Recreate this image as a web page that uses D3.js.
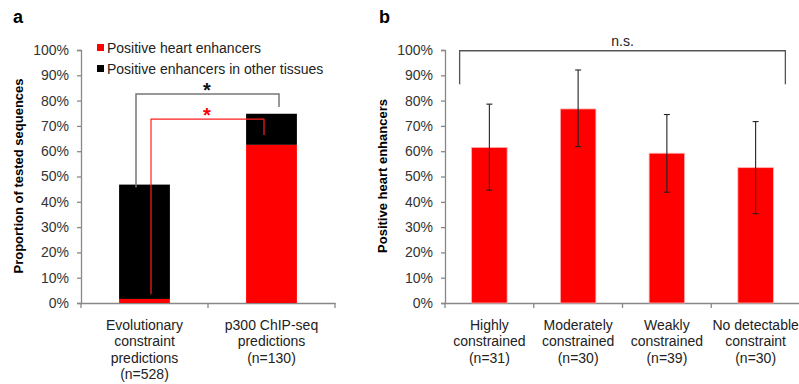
<!DOCTYPE html>
<html>
<head>
<meta charset="utf-8">
<script src="https://cdn.jsdelivr.net/npm/d3@7"></script>
<style>
  body { margin: 0; background: #fff; }
  svg text { font-family: "Liberation Sans", Arial, sans-serif; }
</style>
</head>
<body>
<svg id="chart" width="799" height="384"></svg>
<script>
// panel a
var aCategories = [["Evolutionary", "constraint", "predictions", "(n=528)"], ["p300 ChIP-seq", "predictions", "(n=130)"]];
var aHeart = [0.016, 0.625];
var aOther = [0.452, 0.123];
// panel b
var bCategories = [["Highly", "constrained", "(n=31)"], ["Moderately", "constrained", "(n=30)"], ["Weakly", "constrained", "(n=39)"], ["No detectable", "constraint", "(n=30)"]];
var bValues = [0.615, 0.767, 0.592, 0.535];
var bLow = [0.446, 0.618, 0.438, 0.353];
var bHigh = [0.786, 0.921, 0.745, 0.717];
var yTicks = [0, 0.1, 0.2, 0.3, 0.4, 0.5, 0.6, 0.7, 0.8, 0.9, 1];

var svg = d3.select("#chart");
var fmt = d3.format(".0%");

function drawAxes(g, x, y) {
  var yAxis = g.append("g").attr("transform", "translate(" + x.range()[0] + ",0)")
    .call(d3.axisLeft(y).tickValues(yTicks).tickFormat(fmt).tickSize(4).tickPadding(8));
  var xAxis = g.append("g").attr("transform", "translate(0," + y(0) + ")")
    .call(d3.axisBottom(x).tickSize(0).tickFormat(""));
  [yAxis, xAxis].forEach(function (ax) {
    ax.select(".domain").attr("stroke", "#888").attr("stroke-width", 1.3);
    ax.selectAll(".tick line").attr("stroke", "#888").attr("stroke-width", 1.3);
    ax.selectAll("text").attr("fill", "#333").style("font-size", "14px");
  });
  // category separator ticks
  var edges = x.domain().map(function (d) { return x(d) - x.step() * x.paddingOuter(); });
  edges.push(x.range()[1]);
  xAxis.selectAll(".sep").data(edges).enter().append("line")
    .attr("x1", function (d) { return d; }).attr("x2", function (d) { return d; })
    .attr("y1", 0).attr("y2", 5).attr("stroke", "#888").attr("stroke-width", 1.3);
}

function drawLabels(g, x, y, cats) {
  cats.forEach(function (lines, i) {
    var t = g.append("text").attr("text-anchor", "middle").attr("fill", "#222")
      .style("font-size", "14px");
    lines.forEach(function (s, j) {
      t.append("tspan").attr("x", x(i) + x.bandwidth() / 2).attr("y", y(0) + 27 + j * 16.3).text(s);
    });
  });
}

// ---------- panel a ----------
var ya = d3.scaleLinear().domain([0, 1]).range([303, 50]);
var xa = d3.scaleBand().domain(d3.range(aCategories.length)).range([81, 335]).paddingInner(0.6).paddingOuter(0.3);
var ga = svg.append("g");
drawAxes(ga, xa, ya);

ga.selectAll(".other").data(aOther).enter().append("rect")
  .attr("x", function (d, i) { return xa(i); })
  .attr("width", xa.bandwidth())
  .attr("y", function (d, i) { return ya(aHeart[i] + d); })
  .attr("height", function (d) { return ya(0) - ya(d); })
  .attr("fill", "#000");
ga.selectAll(".heart").data(aHeart).enter().append("rect")
  .attr("x", function (d, i) { return xa(i); })
  .attr("width", xa.bandwidth())
  .attr("y", function (d) { return ya(d); })
  .attr("height", function (d) { return ya(0) - ya(d); })
  .attr("fill", "#ff0000");

// significance brackets
var c0 = xa(0) + xa.bandwidth() / 2, c1 = xa(1) + xa.bandwidth() / 2;
ga.append("path")
  .attr("d", d3.line()([[c0 - 8.5, ya(aHeart[0] + aOther[0]) + 3], [c0 - 8.5, ya(0.826)], [c1 + 7.5, ya(0.826)], [c1 + 7.5, ya(0.775)]]))
  .attr("fill", "none").attr("stroke", "#777").attr("stroke-width", 1.5);
ga.append("text").attr("x", (c0 + c1) / 2 - 1).attr("y", ya(0.826) + 3).attr("text-anchor", "middle")
  .style("font-size", "20px").style("font-weight", "bold").attr("fill", "#111").text("*");
ga.append("path")
  .attr("d", d3.line()([[c0 + 6.5, ya(0.035)], [c0 + 6.5, ya(0.727)], [c1 - 7.5, ya(0.727)], [c1 - 7.5, ya(0.664)]]))
  .attr("fill", "none").attr("stroke", "#ff2020").attr("stroke-width", 1.2);
ga.append("text").attr("x", (c0 + c1) / 2 - 1).attr("y", ya(0.727) + 3).attr("text-anchor", "middle")
  .style("font-size", "20px").style("font-weight", "bold").attr("fill", "#ff0000").text("*");

// legend
var legend = [["Positive heart enhancers", "#ff0000"], ["Positive enhancers in other tissues", "#000"]];
legend.forEach(function (l, i) {
  ga.append("rect").attr("x", 97).attr("y", 44 + i * 21).attr("width", 7).attr("height", 7).attr("fill", l[1]);
  ga.append("text").attr("x", 107).attr("y", 53 + i * 21).attr("fill", "#222")
    .style("font-size", "14px").text(l[0]);
});

drawLabels(ga, xa, ya, aCategories);
ga.append("text").attr("transform", "translate(23,176) rotate(-90)").attr("text-anchor", "middle")
  .style("font-size", "13px").style("font-weight", "bold").attr("fill", "#000").text("Proportion of tested sequences");
svg.append("text").attr("x", 13).attr("y", 23).style("font-size", "18px").style("font-weight", "bold").text("a");

// ---------- panel b ----------
var yb = d3.scaleLinear().domain([0, 1]).range([303, 50]);
var xb = d3.scaleBand().domain(d3.range(bCategories.length)).range([445, 800]).paddingInner(0.6).paddingOuter(0.3);
var gb = svg.append("g");
drawAxes(gb, xb, yb);

gb.selectAll(".bar").data(bValues).enter().append("rect")
  .attr("x", function (d, i) { return xb(i); })
  .attr("width", xb.bandwidth())
  .attr("y", function (d) { return yb(d); })
  .attr("height", function (d) { return yb(0) - yb(d); })
  .attr("fill", "#ff0000").attr("stroke", "#ffb0b0").attr("stroke-width", 0.8);

var err = gb.selectAll(".err").data(bValues).enter().append("g");
err.append("line")
  .attr("x1", function (d, i) { return xb(i) + xb.bandwidth() / 2; })
  .attr("x2", function (d, i) { return xb(i) + xb.bandwidth() / 2; })
  .attr("y1", function (d, i) { return yb(bLow[i]); })
  .attr("y2", function (d, i) { return yb(bHigh[i]); })
  .attr("stroke", "#222").attr("stroke-width", 1.1);
[bLow, bHigh].forEach(function (arr) {
  err.append("line")
    .attr("x1", function (d, i) { return xb(i) + xb.bandwidth() / 2 - 3; })
    .attr("x2", function (d, i) { return xb(i) + xb.bandwidth() / 2 + 3; })
    .attr("y1", function (d, i) { return yb(arr[i]); })
    .attr("y2", function (d, i) { return yb(arr[i]); })
    .attr("stroke", "#222").attr("stroke-width", 1.1);
});

// n.s. bracket
var b0 = xb(0) - 12, b1 = xb(3) + xb.bandwidth() + 12;
gb.append("path")
  .attr("d", d3.line()([[b0, yb(0.865)], [b0, yb(0.997)], [b1, yb(0.997)], [b1, yb(0.865)]]))
  .attr("fill", "none").attr("stroke", "#555").attr("stroke-width", 1.3);
gb.append("text").attr("x", (b0 + b1) / 2).attr("y", 46).attr("text-anchor", "middle")
  .style("font-size", "14px").attr("fill", "#222").text("n.s.");

drawLabels(gb, xb, yb, bCategories);
gb.append("text").attr("transform", "translate(387,176) rotate(-90)").attr("text-anchor", "middle")
  .style("font-size", "13px").style("font-weight", "bold").attr("fill", "#000").text("Positive heart enhancers");
svg.append("text").attr("x", 379).attr("y", 23).style("font-size", "18px").style("font-weight", "bold").text("b");
</script>
</body>
</html>
